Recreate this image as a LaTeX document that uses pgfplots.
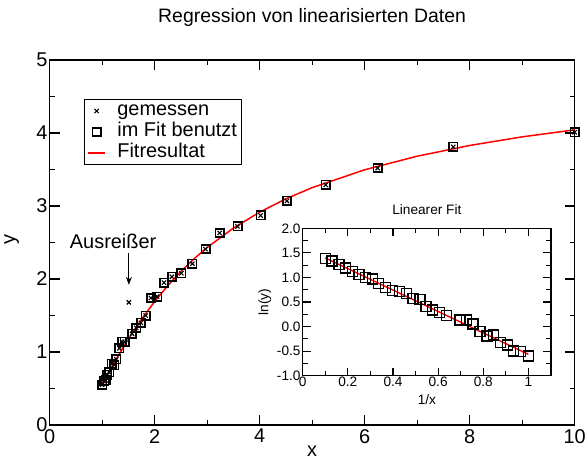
\documentclass[border=0pt]{standalone}
\usepackage{fontspec}
\setmainfont{Liberation Sans}
\usepackage{pgfplots}
\usepackage{pgfplotstable}
\pgfplotsset{compat=1.18}
\usetikzlibrary{arrows.meta}

% measured data (x, y) -- used in the fit
\pgfplotstableread{
x y
10.00 4.01
7.69 3.81
6.25 3.52
5.26 3.29
4.52 3.07
4.02 2.87
3.58 2.72
3.24 2.63
2.97 2.41
2.72 2.21
2.51 2.08
2.33 2.03
2.18 1.95
2.05 1.76
1.93 1.74
1.83 1.50
1.74 1.40
1.65 1.33
1.57 1.25
1.43 1.14
1.38 1.14
1.33 1.05
1.27 0.90
1.23 0.82
1.18 0.84
1.14 0.72
1.10 0.69
1.07 0.61
1.04 0.60
1.00 0.55
}\fitdata

% all measured points including the outlier
\pgfplotstableread{
x y
10.00 4.01
7.69 3.81
6.25 3.52
5.26 3.29
4.52 3.07
4.02 2.87
3.58 2.72
3.24 2.63
2.97 2.41
2.72 2.21
2.51 2.08
2.33 2.03
2.18 1.95
2.05 1.76
1.93 1.74
1.83 1.50
1.74 1.40
1.65 1.33
1.57 1.25
1.51 1.68
1.43 1.14
1.38 1.14
1.33 1.05
1.27 0.90
1.23 0.82
1.18 0.84
1.14 0.72
1.10 0.69
1.07 0.61
1.04 0.60
1.00 0.55
}\alldata

% fit curve
\pgfplotstableread{
x y
1.0 0.568
1.1 0.693
1.2 0.817
1.3 0.940
1.4 1.060
1.5 1.176
1.6 1.287
1.8 1.498
2.0 1.690
2.25 1.908
2.5 2.102
2.75 2.276
3.0 2.431
3.5 2.697
4.0 2.915
4.5 3.098
5.0 3.251
6.0 3.496
7.0 3.682
8.0 3.829
9.0 3.947
10.0 4.043
}\fitcurve

% linearised data (1/x, ln y)
\pgfplotstableread{
u v
0.100 1.389
0.130 1.338
0.160 1.258
0.190 1.190
0.221 1.122
0.249 1.055
0.279 1.002
0.309 0.966
0.337 0.880
0.368 0.792
0.399 0.730
0.429 0.710
0.459 0.670
0.488 0.568
0.519 0.554
0.546 0.405
0.576 0.337
0.607 0.282
0.637 0.221
0.697 0.133
0.726 0.133
0.754 0.052
0.785 -0.104
0.816 -0.193
0.846 -0.172
0.876 -0.329
0.906 -0.376
0.934 -0.498
0.965 -0.512
1.000 -0.600
}\lindata

\pgfplotstableread{
u v
0.1 1.397
1.0 -0.565
}\linfit

\begin{document}
\begin{tikzpicture}
\begin{axis}[
  name=main, at={(0,0)}, anchor=south west,
  scale only axis, width=525bp, height=365bp,
  xmin=0, xmax=10, ymin=0, ymax=5,
  xtick={0,2,...,10}, minor xtick={1,3,...,9},
  ytick={0,1,...,5}, minor ytick={0.5,1.5,...,4.5},
  tick align=inside,
  major tick length=10bp, minor tick length=5bp,
  axis line style={line width=1.2bp},
  every tick/.style={line width=1.2bp, black},
  /pgf/number format/assume math mode=true,
  ticklabel style={font=\fontsize{20}{20}\selectfont},
  xticklabel style={inner sep=1bp, yshift=-3bp},
  yticklabel style={inner sep=1bp, xshift=-1bp},
  title={Regression von linearisierten Daten},
  title style={font=\fontsize{19.5}{20}\selectfont, at={(0.5,1)}, anchor=center, yshift=37bp},
  xlabel={x}, ylabel={y},
  label style={font=\fontsize{20}{20}\selectfont},
  xlabel style={at={(axis description cs:0.5,0)}, anchor=center, yshift=-26bp},
  ylabel style={at={(axis description cs:-0.072,0.507)}, anchor=center, rotate=0},
  legend cell align=left,
  legend style={at={(0.0655,0.893)}, anchor=north west, draw=black, line width=0.8bp,
    font=\fontsize{20}{20}\selectfont, inner xsep=3bp, inner ysep=1bp, row sep=0bp,
    nodes={inner sep=1.5bp, text height=14bp, text depth=4bp}},
  legend image post style={line width=1.5bp},
]
\addplot[only marks, mark=x, mark size=3bp, mark options={line width=1.1bp, black}] table[x=x, y=y] {\alldata};
\addlegendentry{\hspace{10bp}gemessen}
\addplot[only marks, mark=square, mark size=4.2bp, mark options={line width=1.6bp, black}] table[x=x, y=y] {\fitdata};
\addlegendentry{\hspace{10bp}im Fit benutzt}
\addplot[red, line width=1.5bp, no marks] table[x=x, y=y] {\fitcurve};
\addlegendentry{\hspace{10bp}Fitresultat}
\node[font=\fontsize{20}{20}\selectfont] at (axis cs:1.21,2.52) {Ausreißer};
\draw[line width=1.1bp, -{Stealth[length=8bp,width=6bp]}] (axis cs:1.51,2.36) -- (axis cs:1.51,1.92);
\end{axis}

\begin{axis}[
  name=inset, at={(253.1bp,49.3bp)}, anchor=south west,
  scale only axis, width=248.3bp, height=147.4bp,
  axis background/.style={fill=white},
  xmin=0, xmax=1.1, ymin=-1, ymax=2,
  xtick={0,0.2,0.4,0.6,0.8,1}, xticklabels={0,0.2,0.4,0.6,0.8,1},
  minor xtick={0.1,0.3,0.5,0.7,0.9},
  ytick={-1,-0.5,0,0.5,1,1.5,2}, yticklabels={-1.0,-0.5,0.0,0.5,1.0,1.5,2.0},
  minor ytick={-0.75,-0.25,0.25,0.75,1.25,1.75},
  tick align=inside,
  major tick length=8bp, minor tick length=5bp,
  axis line style={line width=1.2bp},
  every tick/.style={line width=1.2bp, black},
  /pgf/number format/assume math mode=true,
  ticklabel style={font=\fontsize{13.7}{14}\selectfont},
  xticklabel style={inner sep=1bp},
  yticklabel style={inner sep=1bp, xshift=-1bp},
  title={Linearer Fit},
  title style={font=\fontsize{13.7}{14}\selectfont, at={(0.5,1)}, anchor=center, yshift=13bp},
  xlabel={1/x}, ylabel={ln(y)},
  label style={font=\fontsize{13.7}{14}\selectfont},
  xlabel style={at={(axis description cs:0.5,0)}, anchor=center, yshift=-23.6bp},
  ylabel style={at={(axis description cs:-0.152,0.5)}, anchor=center},
]
\addplot[only marks, mark=square, mark size=5bp, mark options={line width=1.4bp, black}] table[x=u, y=v] {\lindata};
\addplot[red, line width=1.4bp, no marks] table[x=u, y=v] {\linfit};
\end{axis}
\pgfresetboundingbox
\path[use as bounding box] (-49.6bp,-34bp) rectangle (537.4bp,425bp);
\end{tikzpicture}
\end{document}
